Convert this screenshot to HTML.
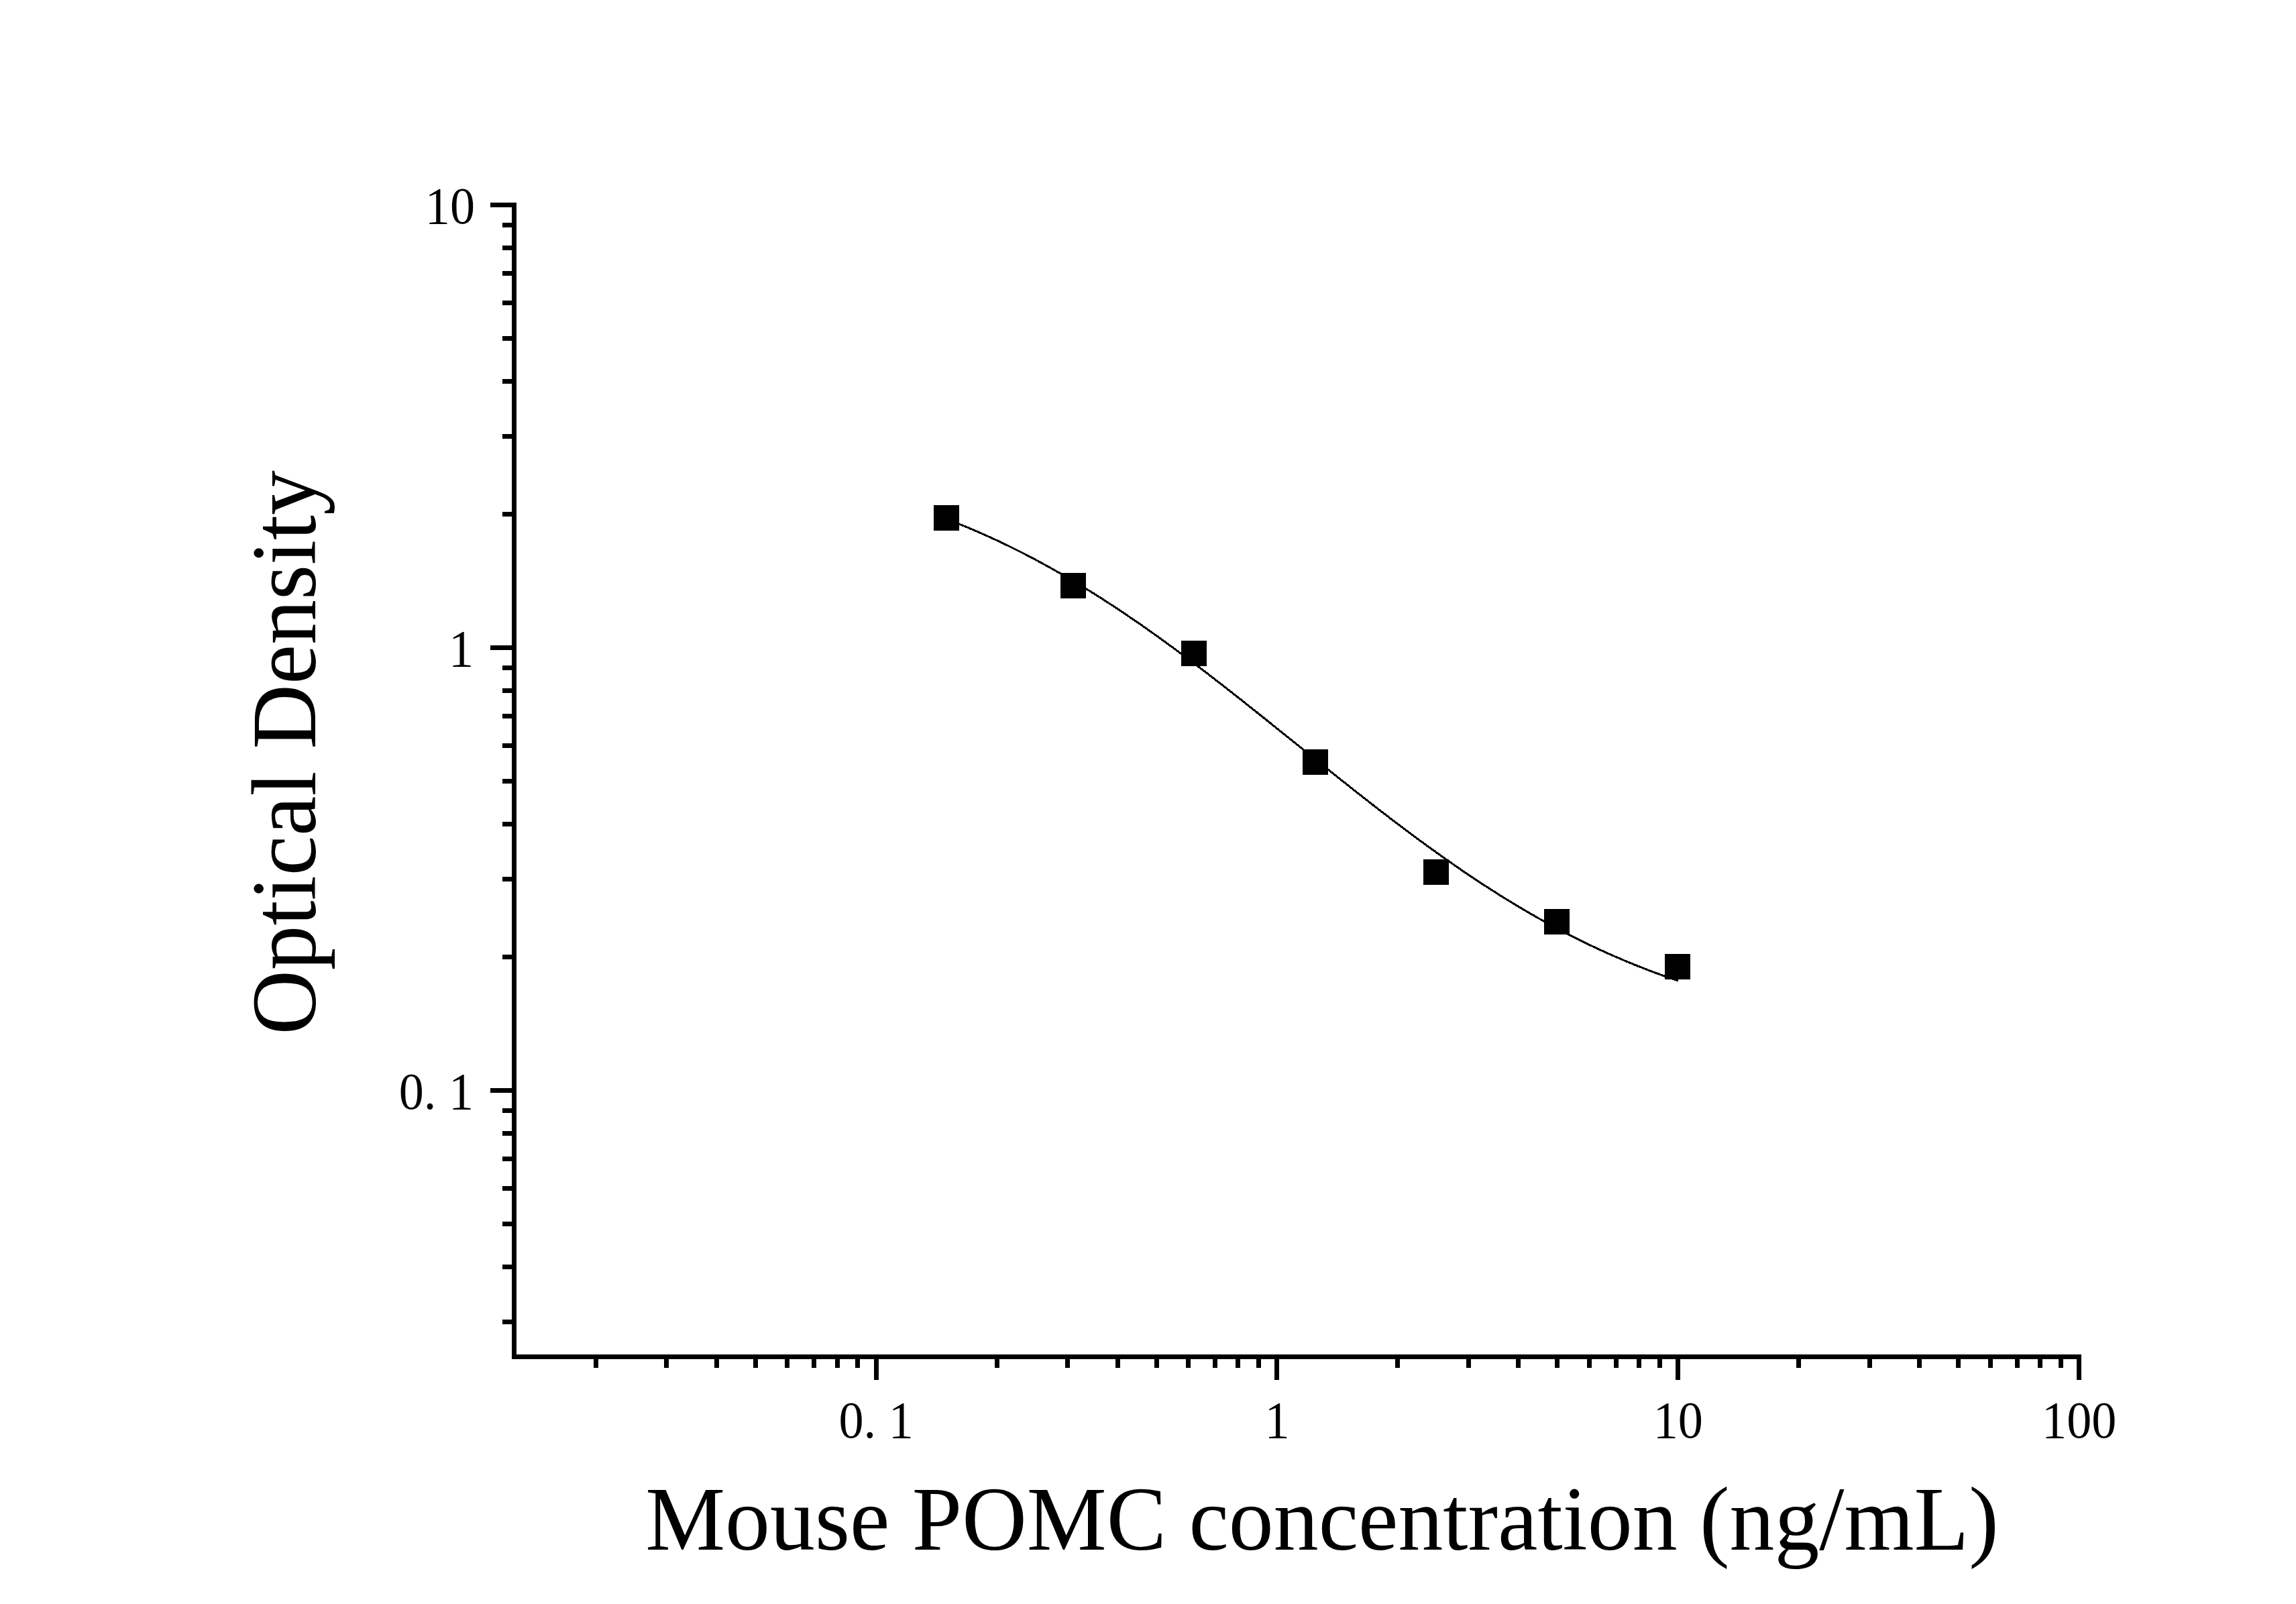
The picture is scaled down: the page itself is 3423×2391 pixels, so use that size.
<!DOCTYPE html>
<html><head><meta charset="utf-8"><style>
html,body{margin:0;padding:0;background:#fff;}
svg{display:block;}
text{font-family:"Liberation Serif",serif;fill:#000;}
</style></head><body>
<svg width="3423" height="2391" viewBox="0 0 3423 2391">
<rect x="0" y="0" width="3423" height="2391" fill="#fff"/>
<g fill="#000" shape-rendering="crispEdges">
<rect x="763" y="302" width="7" height="1724"/>
<rect x="763" y="2019" width="2340" height="7"/>
<rect x="731" y="302" width="32" height="7"/>
<rect x="731" y="962" width="32" height="7"/>
<rect x="731" y="1622" width="32" height="7"/>
<rect x="749" y="1967" width="14" height="7"/>
<rect x="749" y="1885" width="14" height="7"/>
<rect x="749" y="1821" width="14" height="7"/>
<rect x="749" y="1768" width="14" height="7"/>
<rect x="749" y="1724" width="14" height="7"/>
<rect x="749" y="1686" width="14" height="7"/>
<rect x="749" y="1652" width="14" height="7"/>
<rect x="749" y="1423" width="14" height="7"/>
<rect x="749" y="1307" width="14" height="7"/>
<rect x="749" y="1225" width="14" height="7"/>
<rect x="749" y="1161" width="14" height="7"/>
<rect x="749" y="1108" width="14" height="7"/>
<rect x="749" y="1064" width="14" height="7"/>
<rect x="749" y="1026" width="14" height="7"/>
<rect x="749" y="992" width="14" height="7"/>
<rect x="749" y="763" width="14" height="7"/>
<rect x="749" y="647" width="14" height="7"/>
<rect x="749" y="565" width="14" height="7"/>
<rect x="749" y="501" width="14" height="7"/>
<rect x="749" y="448" width="14" height="7"/>
<rect x="749" y="404" width="14" height="7"/>
<rect x="749" y="366" width="14" height="7"/>
<rect x="749" y="332" width="14" height="7"/>
<rect x="1303" y="2019" width="7" height="38"/>
<rect x="1900" y="2019" width="7" height="38"/>
<rect x="2498" y="2019" width="7" height="38"/>
<rect x="3096" y="2019" width="7" height="38"/>
<rect x="885" y="2019" width="7" height="20"/>
<rect x="990" y="2019" width="7" height="20"/>
<rect x="1065" y="2019" width="7" height="20"/>
<rect x="1123" y="2019" width="7" height="20"/>
<rect x="1170" y="2019" width="7" height="20"/>
<rect x="1210" y="2019" width="7" height="20"/>
<rect x="1245" y="2019" width="7" height="20"/>
<rect x="1275" y="2019" width="7" height="20"/>
<rect x="1483" y="2019" width="7" height="20"/>
<rect x="1588" y="2019" width="7" height="20"/>
<rect x="1663" y="2019" width="7" height="20"/>
<rect x="1721" y="2019" width="7" height="20"/>
<rect x="1768" y="2019" width="7" height="20"/>
<rect x="1808" y="2019" width="7" height="20"/>
<rect x="1842" y="2019" width="7" height="20"/>
<rect x="1873" y="2019" width="7" height="20"/>
<rect x="2080" y="2019" width="7" height="20"/>
<rect x="2186" y="2019" width="7" height="20"/>
<rect x="2260" y="2019" width="7" height="20"/>
<rect x="2318" y="2019" width="7" height="20"/>
<rect x="2366" y="2019" width="7" height="20"/>
<rect x="2406" y="2019" width="7" height="20"/>
<rect x="2440" y="2019" width="7" height="20"/>
<rect x="2471" y="2019" width="7" height="20"/>
<rect x="2678" y="2019" width="7" height="20"/>
<rect x="2784" y="2019" width="7" height="20"/>
<rect x="2858" y="2019" width="7" height="20"/>
<rect x="2916" y="2019" width="7" height="20"/>
<rect x="2964" y="2019" width="7" height="20"/>
<rect x="3004" y="2019" width="7" height="20"/>
<rect x="3038" y="2019" width="7" height="20"/>
<rect x="3069" y="2019" width="7" height="20"/>
<rect x="1392" y="753" width="38" height="38"/>
<rect x="1581" y="854" width="38" height="38"/>
<rect x="1761" y="955" width="38" height="38"/>
<rect x="1942" y="1117" width="38" height="38"/>
<rect x="2122" y="1281" width="38" height="38"/>
<rect x="2302" y="1355" width="38" height="38"/>
<rect x="2482" y="1422" width="38" height="38"/>
</g>
<polyline fill="none" stroke="#000" stroke-width="3" shape-rendering="crispEdges" stroke-linejoin="round" points="1411.0,773.6 1416.5,775.7 1422.0,777.9 1427.4,780.1 1432.9,782.3 1438.4,784.5 1443.9,786.8 1449.4,789.1 1454.9,791.5 1460.3,793.9 1465.8,796.3 1471.3,798.7 1476.8,801.2 1482.3,803.7 1487.8,806.3 1493.2,808.9 1498.7,811.5 1504.2,814.1 1509.7,816.8 1515.2,819.6 1520.6,822.3 1526.1,825.1 1531.6,827.9 1537.1,830.8 1542.6,833.7 1548.1,836.6 1553.5,839.6 1559.0,842.6 1564.5,845.6 1570.0,848.7 1575.5,851.8 1581.0,854.9 1586.4,858.0 1591.9,861.2 1597.4,864.5 1602.9,867.7 1608.4,871.0 1613.8,874.4 1619.3,877.7 1624.8,881.1 1630.3,884.5 1635.8,888.0 1641.3,891.5 1646.7,895.0 1652.2,898.5 1657.7,902.1 1663.2,905.7 1668.7,909.3 1674.2,913.0 1679.6,916.7 1685.1,920.4 1690.6,924.2 1696.1,927.9 1701.6,931.7 1707.1,935.6 1712.5,939.4 1718.0,943.3 1723.5,947.2 1729.0,951.1 1734.5,955.1 1739.9,959.1 1745.4,963.1 1750.9,967.1 1756.4,971.1 1761.9,975.2 1767.4,979.3 1772.8,983.4 1778.3,987.5 1783.8,991.7 1789.3,995.8 1794.8,1000.0 1800.3,1004.2 1805.7,1008.4 1811.2,1012.6 1816.7,1016.9 1822.2,1021.1 1827.7,1025.4 1833.1,1029.7 1838.6,1034.0 1844.1,1038.3 1849.6,1042.6 1855.1,1047.0 1860.6,1051.3 1866.0,1055.7 1871.5,1060.0 1877.0,1064.4 1882.5,1068.8 1888.0,1073.2 1893.5,1077.6 1898.9,1082.0 1904.4,1086.4 1909.9,1090.8 1915.4,1095.2 1920.9,1099.6 1926.3,1104.0 1931.8,1108.4 1937.3,1112.8 1942.8,1117.2 1948.3,1121.6 1953.8,1126.0 1959.2,1130.4 1964.7,1134.8 1970.2,1139.2 1975.7,1143.6 1981.2,1148.0 1986.7,1152.4 1992.1,1156.8 1997.6,1161.1 2003.1,1165.5 2008.6,1169.8 2014.1,1174.2 2019.5,1178.5 2025.0,1182.8 2030.5,1187.1 2036.0,1191.4 2041.5,1195.7 2047.0,1200.0 2052.4,1204.2 2057.9,1208.5 2063.4,1212.7 2068.9,1216.9 2074.4,1221.1 2079.9,1225.2 2085.3,1229.4 2090.8,1233.5 2096.3,1237.6 2101.8,1241.7 2107.3,1245.8 2112.7,1249.9 2118.2,1253.9 2123.7,1257.9 2129.2,1261.9 2134.7,1265.9 2140.2,1269.8 2145.6,1273.7 2151.1,1277.6 2156.6,1281.5 2162.1,1285.3 2167.6,1289.1 2173.1,1292.9 2178.5,1296.7 2184.0,1300.4 2189.5,1304.1 2195.0,1307.8 2200.5,1311.5 2205.9,1315.1 2211.4,1318.7 2216.9,1322.2 2222.4,1325.8 2227.9,1329.2 2233.4,1332.7 2238.8,1336.2 2244.3,1339.6 2249.8,1342.9 2255.3,1346.3 2260.8,1349.6 2266.3,1352.9 2271.7,1356.1 2277.2,1359.3 2282.7,1362.5 2288.2,1365.6 2293.7,1368.8 2299.2,1371.8 2304.6,1374.9 2310.1,1377.9 2315.6,1380.9 2321.1,1383.8 2326.6,1386.7 2332.0,1389.6 2337.5,1392.4 2343.0,1395.3 2348.5,1398.0 2354.0,1400.8 2359.5,1403.5 2364.9,1406.1 2370.4,1408.8 2375.9,1411.4 2381.4,1414.0 2386.9,1416.5 2392.4,1419.0 2397.8,1421.5 2403.3,1423.9 2408.8,1426.3 2414.3,1428.6 2419.8,1431.0 2425.2,1433.3 2430.7,1435.5 2436.2,1437.8 2441.7,1440.0 2447.2,1442.1 2452.7,1444.3 2458.1,1446.4 2463.6,1448.5 2469.1,1450.5 2474.6,1452.5 2480.1,1454.5 2485.6,1456.4 2491.0,1458.3 2496.5,1460.2 2502.0,1462.1"/>
<text transform="translate(708,333.4) scale(0.99,1.04)" text-anchor="end" font-size="75">10</text>
<text transform="translate(706,993.4) scale(0.99,1.04)" text-anchor="end" font-size="75">1</text>
<text transform="translate(706,1653.4) scale(0.99,1.04)" text-anchor="end" font-size="75">0. 1</text>
<text transform="translate(1306.1,2143.3) scale(0.99,1.04)" text-anchor="middle" font-size="75">0. 1</text>
<text transform="translate(1904.0,2143.3) scale(0.99,1.04)" text-anchor="middle" font-size="75">1</text>
<text transform="translate(2501.8,2143.3) scale(0.99,1.04)" text-anchor="middle" font-size="75">10</text>
<text transform="translate(3099.7,2143.3) scale(0.99,1.04)" text-anchor="middle" font-size="75">100</text>
<text transform="translate(1971,2310) scale(0.9985,1.01)" text-anchor="middle" font-size="134">Mouse POMC concentration (ng/mL)</text>
<text transform="translate(470,1121.9) rotate(-90) scale(0.996,1.03)" text-anchor="middle" font-size="134">Optical Density</text>
</svg>
</body></html>
